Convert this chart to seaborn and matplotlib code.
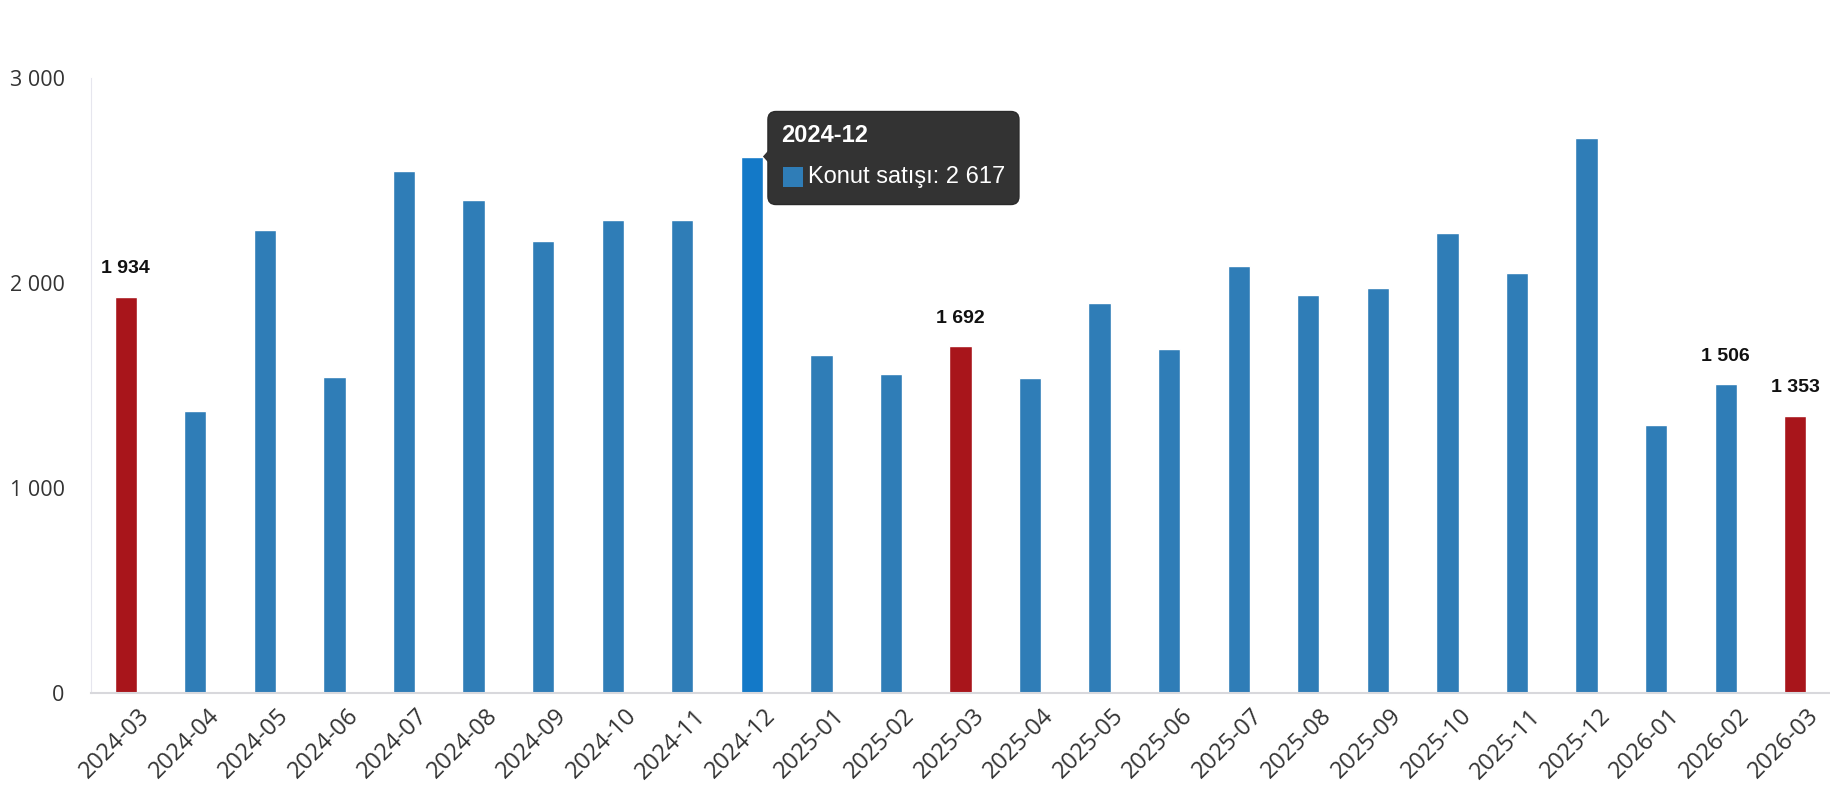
import matplotlib
matplotlib.use("Agg")
import matplotlib.pyplot as plt
import matplotlib.transforms as mtransforms
from matplotlib.patches import FancyBboxPatch, Polygon, Rectangle
import numpy as np
import pandas as pd
import seaborn as sns

months = ["2024-03", "2024-04", "2024-05", "2024-06", "2024-07", "2024-08",
          "2024-09", "2024-10", "2024-11", "2024-12", "2025-01", "2025-02",
          "2025-03", "2025-04", "2025-05", "2025-06", "2025-07", "2025-08",
          "2025-09", "2025-10", "2025-11", "2025-12", "2026-01", "2026-02",
          "2026-03"]
sales = [1934, 1377, 2260, 1542, 2544, 2407, 2203, 2305, 2305, 2617,
         1650, 1554, 1692, 1537, 1901, 1679, 2083, 1941, 1975, 2242,
         2049, 2709, 1309, 1506, 1353]
highlight = ["2024-03", "2025-03", "2026-03"]
labelled = ["2024-03", "2025-03", "2026-02", "2026-03"]
hovered = "2024-12"

BLUE = "#2f7db7"
RED = "#a8151b"
HOVER = "#1379c8"

df = pd.DataFrame({"month": months, "sales": sales})
colors = [RED if m in highlight else (HOVER if m == hovered else BLUE) for m in months]

sns.set_style("white")
plt.rcParams["font.family"] = ["Open Sans", "DejaVu Sans"]

fig = plt.figure(figsize=(18.3, 8), dpi=100)
ax = fig.add_axes([91 / 1830, 1 - 693 / 800, (1830 - 91) / 1830, (693 - 78) / 800])

sns.barplot(data=df, x="month", y="sales", hue="month", palette=colors,
            legend=False, width=0.32, saturation=1, ax=ax)

ax.set_xlim(-0.5, len(months) - 0.5)
ax.set_ylim(0, 3000)
ax.set_yticks([0, 1000, 2000, 3000])
ax.set_yticklabels([f"{v:,}".replace(",", " ") for v in [0, 1000, 2000, 3000]],
                   fontsize=15.5, color="#333333")
# rotated labels end a little right of the bar centre, as in the original
ax.set_xticks(np.arange(len(months)) + 0.17)
ax.set_xticklabels(months, rotation=45, ha="right", va="top", rotation_mode="anchor",
                   fontsize=17, color="#333333")
ax.tick_params(axis="y", length=0, pad=19)
ax.tick_params(axis="x", length=0, pad=8)
ax.set_xlabel("")
ax.set_ylabel("")

for side in ["top", "right"]:
    ax.spines[side].set_visible(False)
ax.spines["left"].set_color("#e6e6ee")
ax.spines["bottom"].set_color("#d8d8dc")
ax.spines["bottom"].set_linewidth(1.5)

for i, (m, v) in enumerate(zip(months, sales)):
    if m in labelled:
        ax.annotate(f"{v:,}".replace(",", " "), (i, v), xytext=(0, 14),
                    textcoords="offset points", ha="center", va="bottom",
                    fontsize=14, fontweight="bold", family="Liberation Sans",
                    color="#111111")

# hover tooltip next to the highlighted bar
hi = months.index(hovered)
fig.canvas.draw()
tip_x, tip_y = ax.transData.transform((hi + 0.16, sales[hi]))
tr = mtransforms.Affine2D().translate(tip_x, tip_y)
box_w, box_h = 253, 93
box = FancyBboxPatch((5, -48), box_w - 2, box_h, boxstyle="round,pad=0,rounding_size=8",
                     transform=tr, facecolor="#333333", edgecolor="#2a2a2a",
                     linewidth=1, zorder=10, clip_on=False)
fig.add_artist(box)
fig.add_artist(Polygon([(0, 0), (8, 9), (8, -9)], closed=True, transform=tr,
                       facecolor="#333333", edgecolor="none", zorder=11))
fig.add_artist(Rectangle((20, -30), 20, 20, transform=tr, facecolor=BLUE,
                         edgecolor="none", zorder=12))
fig.text(18, 21, hovered, transform=tr, color="white", fontsize=17,
         fontweight="bold", family="Liberation Sans", va="center", zorder=12)
fig.text(45, -20, f"Konut satışı: {sales[hi]:,}".replace(",", " "), transform=tr,
         color="white", fontsize=17, family="Liberation Sans", va="center",
         zorder=12)

fig.savefig("out.png", dpi=100)
